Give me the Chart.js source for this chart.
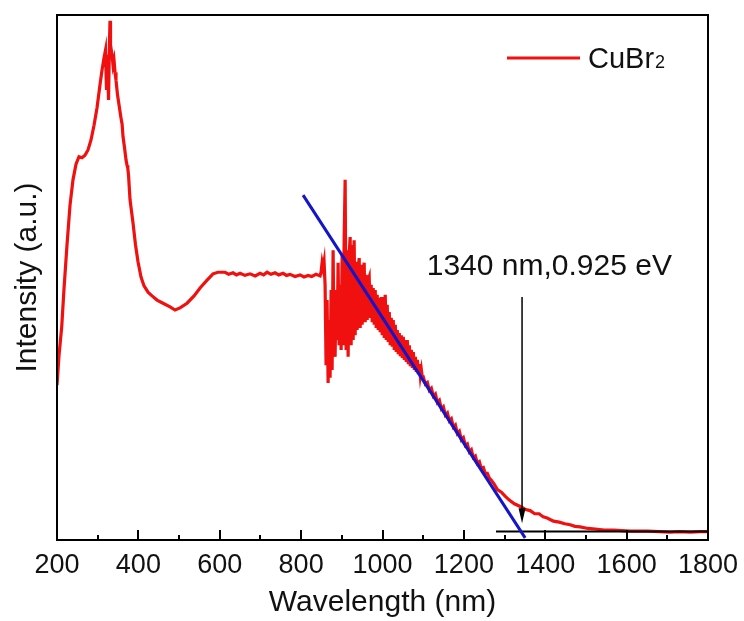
<!DOCTYPE html>
<html><head><meta charset="utf-8">
<script src="https://cdn.jsdelivr.net/npm/chart.js@4"></script>
<style>html,body{margin:0;padding:0;background:#fff}#wrap{width:744px;height:621px}</style>
</head><body><div id="wrap"><canvas id="c" width="744" height="621"></canvas></div>
<script>
// ---- data ----
const wavelength = [
 200,205,211.6,217,224.6,232,239.3,246.7,254,261.5,268.8,276.2,283.6,291,298.3,305.7,310.6,315.5,319.2,321.7,
 324.2,326.6,329.1,330.3,331.5,335.2,337.7,340.1,342.6,345,348.7,352.4,357.3,360,362.3,366,369.6,372.1,374,375.8,
 379.5,386.8,393,399.1,406.5,413.9,423.7,433.6,445.9,460.6,477.8,490.1,502.4,519.6,536.8,551.6,568.8,583.5,595.8,
 613,622,632.7,641,649.9,662,674.5,687,699.1,708,716.3,726,735.9,745,755.6,764,772.8,785,797.4,807,817.1,826,836.7,846.6,
 849.0,851.5,853.9,856.4,858.9,861.3,863.8,866.3,868.7,871.2,873.7,876.1,878.6,881.0,883.5,886.0,888.4,890.9,893.4,895.8,
 898.3,900.8,903.2,905.7,908.2,910.6,913.1,915.5,918.0,920.5,922.9,925.4,927.9,930.3,932.8,935.3,937.7,940.2,942.7,945.1,
 947.6,950.0,952.5,955.0,957.4,959.9,962.4,964.8,967.3,969.8,972.2,974.7,977.1,979.6,982.1,984.5,987.0,989.5,991.9,994.4,
 996.9,999.3,1001.8,1004.3,1006.7,1009.2,1011.6,1014.1,1016.6,1019.0,1021.5,1024.0,1026.4,1028.9,1031.4,1033.8,1036.3,1038.8,1041.2,1043.7,
 1046.2,1048.6,1051.1,1053.6,1056.0,1058.5,1060.9,1063.4,1065.9,1068.3,1070.8,1073.3,1075.7,1078.2,1080.7,1083.1,1085.6,1088.1,1090.5,1093.0,
 1095.5,1097.9,
 1100.5,1105.4,1110.3,1115.2,1120.1,1125.1,1130.0,1134.9,1139.8,1144.7,1149.6,1154.5,1159.5,1164.4,1169.3,1174.2,1179.1,1184.0,1188.9,1193.8,
 1198.8,1203.7,1208.6,1213.5,1218.4,1223.3,1228.2,1233.1,1238.1,1243.0,1247.9,1252.8,1257.7,1262.6,1267.5,1274.9,1282.3,1292.1,1301.9,1311.7,
 1324.0,1341.2,1352,1362.9,1374,1385,1395,1404.7,1420,1434.2,1448,1461.2,1473,1485.8,
 1505,1522.7,1545,1566.9,1588,1608.7,1630,1650.5,1680,1707,1730,1756.2,1780,1800
];
const intensity = [
 29.5,35.2,40.6,47.6,56.2,63.8,68.6,71.6,73,72.8,73.3,74.3,76.2,79,82.3,86.7,89.5,91.8,93.3,85.7,
 92.4,83.8,95.2,98.9,94.3,92.4,90.5,91.4,89.1,87.6,84.8,82.9,80.4,79.2,76.8,74.7,72.4,71.4,70.8,69.5,
 64.8,60.4,56.2,53,50.1,48.4,47.2,46.5,45.7,45.1,44.4,43.8,44.2,45.1,46.5,48,49.5,50.7,51.0,
 51.0,50.6,50.9,50.5,50.8,50.4,50.7,50.3,50.8,50.5,51.0,50.6,50.9,50.5,50.8,50.4,50.6,50.2,50.5,50.1,50.4,50.2,50.6,50.3,
 51.0,52.8,51.8,53.0,48.6,33.3,45.7,29.9,41.9,30.9,47.6,32.4,55.2,37.1,34.9,47.6,38.1,52.8,37.1,48.6,
 36.2,54.3,37.1,57.1,68.6,36.2,55.2,34.9,54.3,57.7,37.1,56.2,38.1,57.1,39.0,53.0,40.0,51.8,53.7,40.4,
 52.4,41.0,51.4,52.8,41.5,50.5,41.9,49.5,50.1,42.3,48.6,41.5,48.0,41.0,47.6,40.4,46.7,40.0,46.1,39.6,
 46.3,39.0,46.3,38.5,46.7,38.1,44.8,37.7,43.4,37.1,42.3,36.8,41.9,36.2,41.0,35.8,40.0,35.4,39.4,35.0,
 39.0,34.7,38.7,34.3,38.1,33.9,38.1,33.5,37.1,33.1,36.2,32.8,35.8,32.4,34.9,32.0,34.3,31.6,33.5,31.2,
 32.4,30.9,
 31.0,29.7,30.0,28.5,28.9,27.4,27.8,26.2,26.6,25.0,25.4,23.8,24.2,22.7,23.1,21.5,21.9,20.3,20.7,19.1,
 19.5,18.0,18.3,16.8,17.2,15.7,16.0,14.6,14.9,13.6,13.8,12.6,12.7,11.8,11.4,10.6,9.6,9.1,8.3,7.6,
 6.9,6.3,5.8,5.6,5.0,5.0,4.4,4.2,3.6,3.4,3.1,2.9,2.6,2.5,
 2.2,2.1,1.9,1.9,1.8,1.7,1.7,1.7,1.6,1.5,1.6,1.5,1.6,1.6
];
const fitWavelength = [804.8, 1350.6];
const fitIntensity = [65.7, 0.4];
const baseWavelength = [1279, 1800];
const baseIntensity = [1.6, 1.6];
const xTickLabels = [200, 400, 600, 800, 1000, 1200, 1400, 1600, 1800];
const xMinorTicks = [300, 500, 700, 900, 1100, 1300, 1500, 1700];
const arrowWavelength = 1343;
const arrowFrom = 46.3;
const arrowTo = 3.2;
const annotationText = '1340 nm,0.925 eV';
const annotationAt = [1410, 50.5];
const seriesName = 'CuBr';
const seriesSub = '2';

const FONT = '"Liberation Sans", Arial, sans-serif';
const toXY = (xs, ys) => xs.map((x, i) => ({x: x, y: ys[i]}));

const decor = {
  id: 'decor',
  afterDatasetsDraw(chart) {
    const {ctx, chartArea: a, scales: {x, y}} = chart;
    ctx.save();
    // ticks (inward)
    ctx.strokeStyle = '#000'; ctx.lineWidth = 2;
    ctx.beginPath();
    xTickLabels.forEach(v => { const px = Math.round(x.getPixelForValue(v)); ctx.moveTo(px, a.bottom); ctx.lineTo(px, a.bottom - 10); });
    xMinorTicks.forEach(v => { const px = Math.round(x.getPixelForValue(v)); ctx.moveTo(px, a.bottom); ctx.lineTo(px, a.bottom - 5); });
    ctx.stroke();
    // frame
    ctx.lineWidth = 2;
    ctx.strokeRect(a.left, a.top, a.right - a.left, a.bottom - a.top);
    // arrow
    const ax = x.getPixelForValue(arrowWavelength);
    const y0 = y.getPixelForValue(arrowFrom), y1 = y.getPixelForValue(arrowTo);
    ctx.lineWidth = 1.5;
    ctx.beginPath(); ctx.moveTo(ax, y0); ctx.lineTo(ax, y1 - 10); ctx.stroke();
    ctx.fillStyle = '#000';
    ctx.beginPath(); ctx.moveTo(ax - 3.5, y1 - 15); ctx.lineTo(ax + 3.5, y1 - 15); ctx.lineTo(ax, y1); ctx.closePath(); ctx.fill();
    // annotation
    ctx.font = '30px ' + FONT; ctx.textAlign = 'center'; ctx.textBaseline = 'alphabetic';
    ctx.fillStyle = '#111';
    ctx.fillText(annotationText, x.getPixelForValue(annotationAt[0]), y.getPixelForValue(annotationAt[1]));
    // legend
    const ly = a.top + 43;
    ctx.strokeStyle = '#f01010'; ctx.lineWidth = 3;
    ctx.beginPath(); ctx.moveTo(a.right - 201, ly); ctx.lineTo(a.right - 128, ly); ctx.stroke();
    ctx.textAlign = 'left'; ctx.font = '29px ' + FONT; ctx.fillStyle = '#111';
    ctx.fillText(seriesName, a.right - 120, ly + 10);
    const w = ctx.measureText(seriesName).width;
    ctx.font = '18px ' + FONT;
    ctx.fillText(seriesSub, a.right - 120 + w + 1, ly + 10);
    ctx.restore();
  }
};

new Chart(document.getElementById('c'), {
  type: 'line',
  data: {
    datasets: [
      {label: 'CuBr2', data: toXY(wavelength, intensity), borderColor: '#f01010', borderWidth: 3.2, pointRadius: 0, tension: 0, order: 3},
      {label: 'base', data: toXY(baseWavelength, baseIntensity), borderColor: '#000', borderWidth: 2, pointRadius: 0, order: 2},
      {label: 'fit', data: toXY(fitWavelength, fitIntensity), borderColor: '#1414c8', borderWidth: 3, pointRadius: 0, order: 1}
    ]
  },
  options: {
    responsive: false, animation: false, devicePixelRatio: 1,
    layout: {padding: {top: 15, right: 36, left: 0, bottom: 0}},
    plugins: {legend: {display: false}, tooltip: {enabled: false}},
    scales: {
      x: {
        type: 'linear', min: 200, max: 1800,
        afterBuildTicks: s => { s.ticks = xTickLabels.map(v => ({value: v})); },
        afterFit: s => { s.height = 81; s.paddingLeft = 0; s.paddingRight = 0; },
        grid: {display: false, drawTicks: false}, border: {display: false},
        ticks: {font: {family: FONT, size: 27}, color: '#111', padding: 9, maxRotation: 0, autoSkip: false, callback: v => String(v)},
        title: {display: true, text: 'Wavelength (nm)', font: {family: FONT, size: 30}, color: '#111', padding: {top: 4, bottom: 0}}
      },
      y: {
        min: 0, max: 100,
        afterFit: s => { s.width = 57; },
        grid: {display: false, drawTicks: false}, border: {display: false},
        ticks: {display: false},
        title: {display: true, text: 'Intensity (a.u.)', font: {family: FONT, size: 30}, color: '#111', padding: {top: 10, bottom: 0}}
      }
    }
  },
  plugins: [decor]
});
</script>
</body></html>
